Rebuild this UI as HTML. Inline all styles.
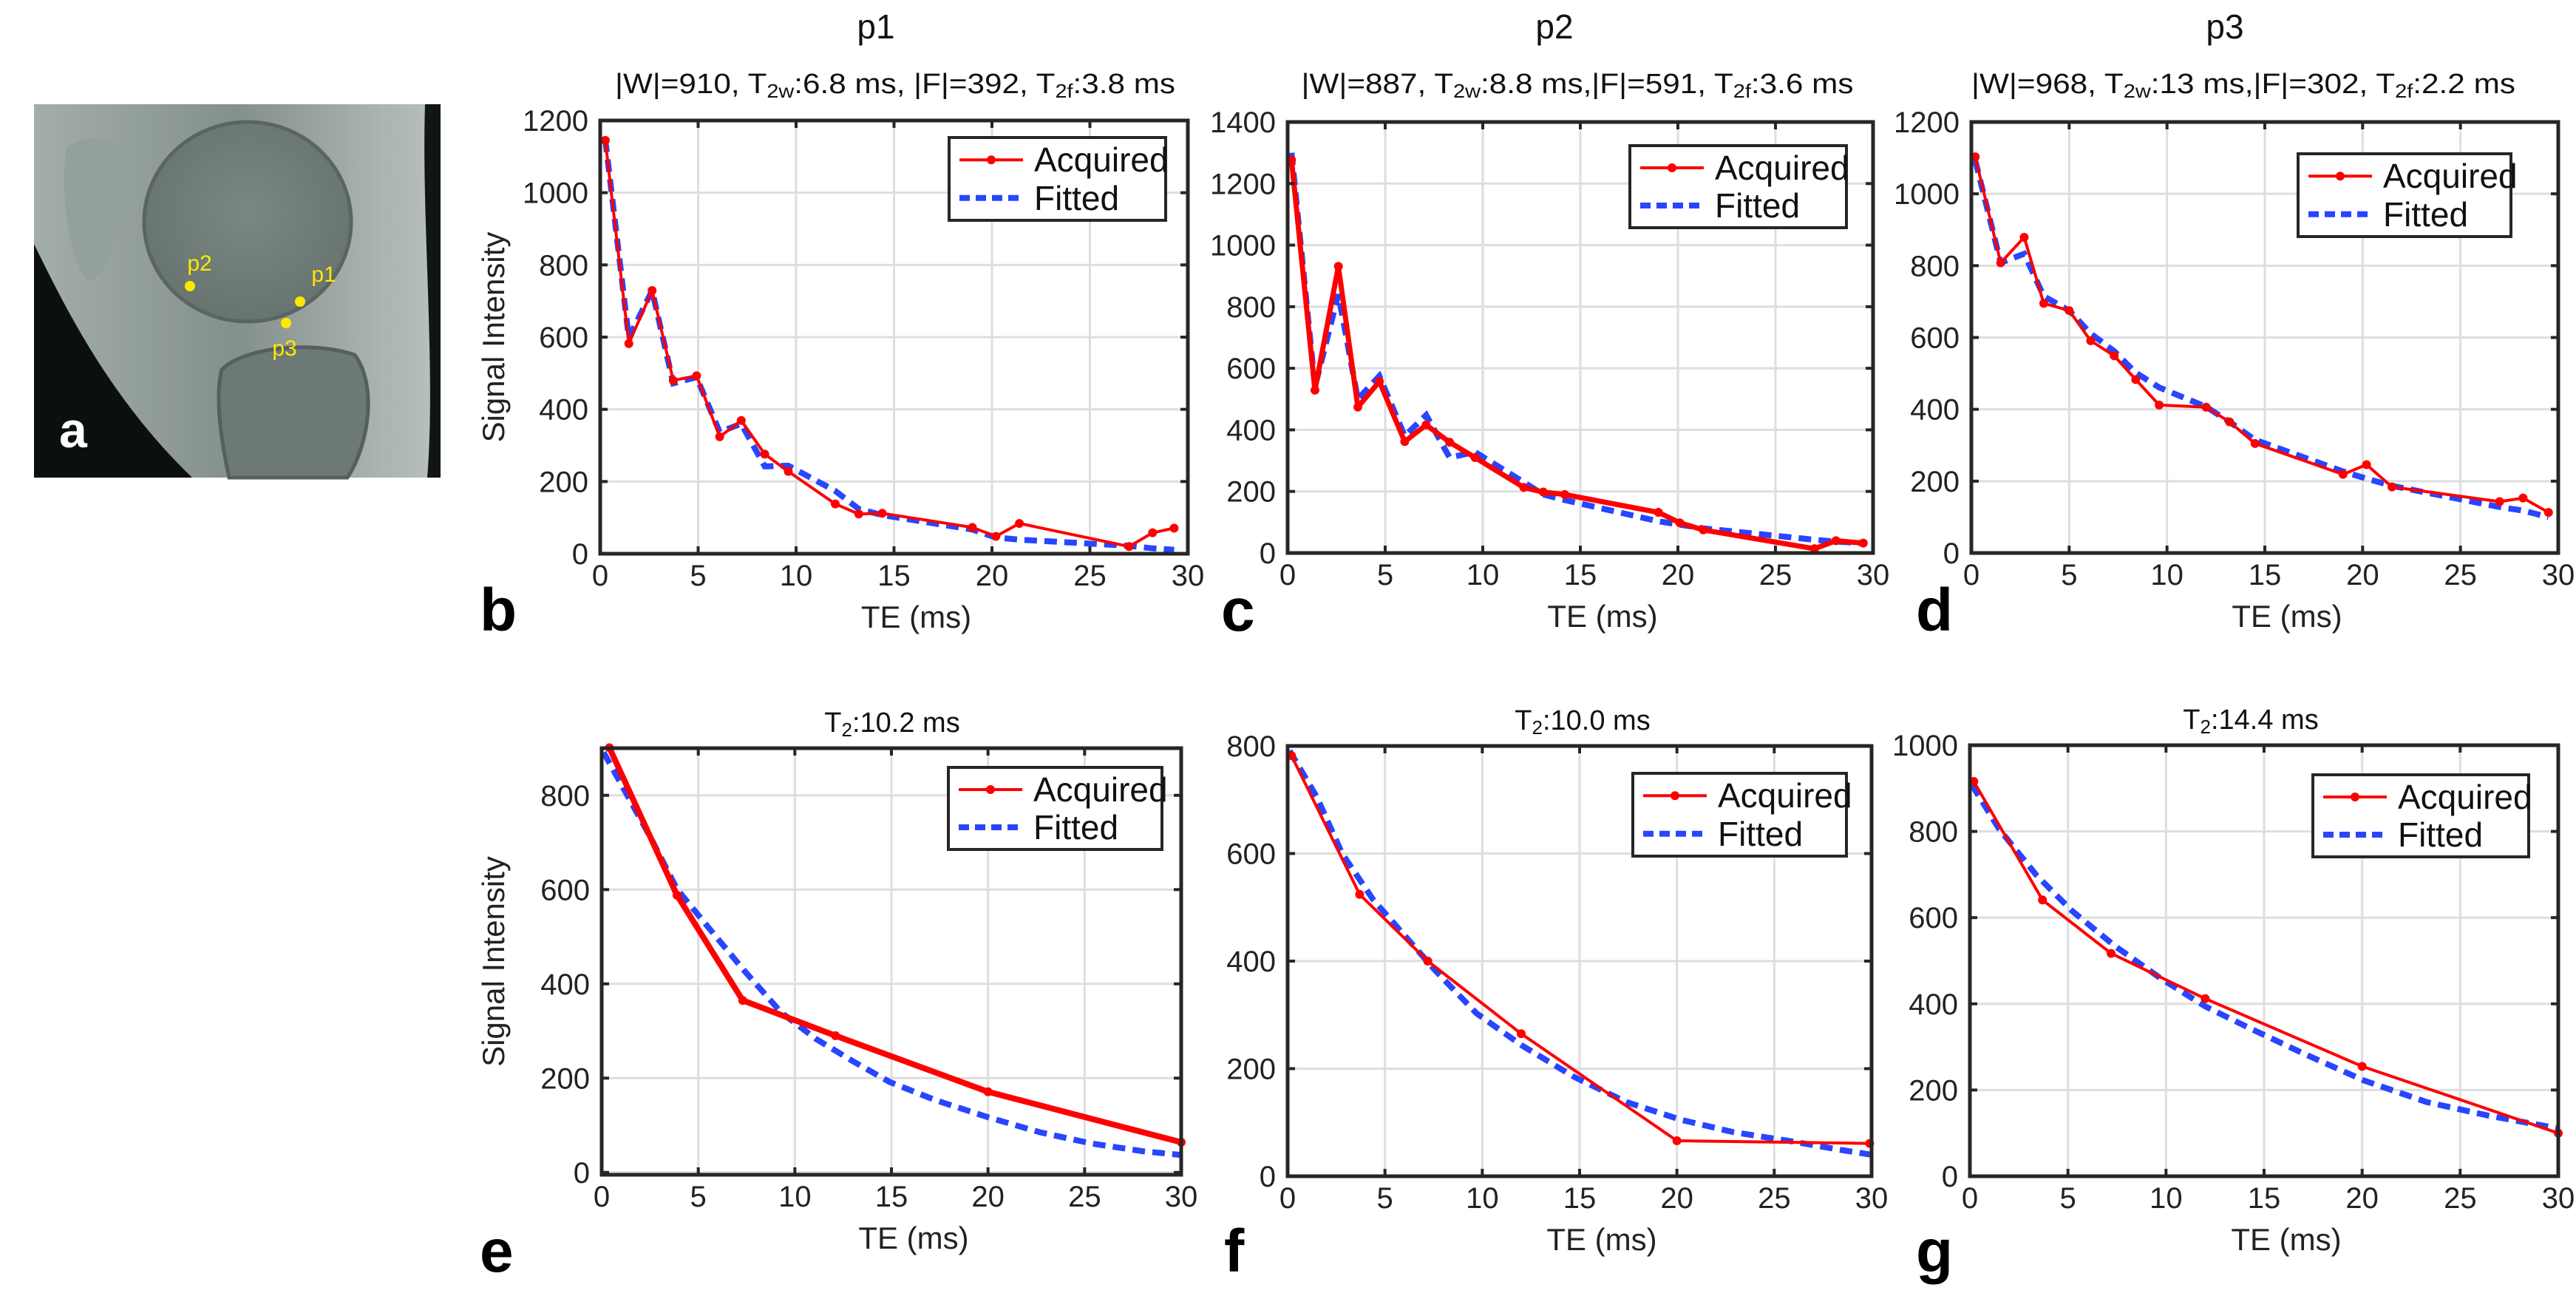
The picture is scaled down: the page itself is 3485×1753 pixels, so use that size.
<!DOCTYPE html>
<html><head><meta charset="utf-8"><style>
html,body{margin:0;padding:0;background:#fff;}
svg{display:block;font-family:"Liberation Sans Narrow","Liberation Sans",Arial,sans-serif;}
</style></head><body>
<svg id="fig" xmlns="http://www.w3.org/2000/svg" width="3485" height="1753" viewBox="0 0 3485 1753">
<defs>
<radialGradient id="femur" cx="0.5" cy="0.45" r="0.55"><stop offset="0" stop-color="#7a8784"/><stop offset="1" stop-color="#68746f"/></radialGradient>
<linearGradient id="bgMri" x1="0" y1="0" x2="1" y2="0"><stop offset="0" stop-color="#a3aeab"/><stop offset="0.5" stop-color="#84908d"/><stop offset="1" stop-color="#b9c2bf"/></linearGradient>
</defs>
<g>
<rect x="46" y="141" width="550" height="505" fill="url(#bgMri)"/>
<path d="M46 330 C90 420,150 540,260 646 L46 646 Z" fill="#0c0f0f"/>
<path d="M575 141 L596 141 L596 646 L578 646 C590 500,570 300,575 141Z" fill="#121515"/>
<path d="M90 200 C130 170,180 190,175 250 C170 300,150 370,120 380 C95 360,80 260,90 200Z" fill="#93a09c"/>
<ellipse cx="335" cy="300" rx="140" ry="135" fill="url(#femur)" stroke="#5a6562" stroke-width="5"/>
<path d="M300 500 C330 470,420 460,480 480 C510 520,500 600,470 646 L310 646 C300 600,290 540,300 500Z" fill="#6d7976" stroke="#55605d" stroke-width="5"/>
<circle cx="257" cy="387" r="7" fill="#ffe800"/>
<circle cx="406" cy="408" r="7" fill="#ffe800"/>
<circle cx="387" cy="437" r="7" fill="#ffe800"/>
<text x="270" y="366" font-size="30" fill="#ffe800" text-anchor="middle" font-family="Liberation Sans, sans-serif">p2</text>
<text x="438" y="381" font-size="30" fill="#ffe800" text-anchor="middle" font-family="Liberation Sans, sans-serif">p1</text>
<text x="385" y="481" font-size="30" fill="#ffe800" text-anchor="middle" font-family="Liberation Sans, sans-serif">p3</text>
<text x="80" y="605" font-size="68" font-weight="bold" fill="#fff" font-family="Liberation Sans, sans-serif">a</text>
</g>
</svg>
<script>
// ---- data arrays ----
const bX   = [0.26,1.46,2.65,3.73,4.92,6.1,7.2,8.4,9.6,12.0,13.2,14.4,19.0,20.2,21.4,27.0,28.2,29.3];
const bAcq = [1145,582,729,480,493,324,369,276,228,138,110,112,73,48,84,20,58,71];
const bFit = [1147,598,729,472,489,337,360,242,244,174,124,107,67,45,39,22,15,11];
const cX   = [0.2,1.4,2.6,3.6,4.7,6.0,7.1,8.3,9.6,12.1,13.1,14.2,19.0,20.1,21.3,27.0,28.1,29.5];
const cAcq = [1276,529,931,474,557,362,416,360,310,213,198,190,132,98,75,14,40,32];
const cFit = [1300,540,840,500,575,380,448,310,328,230,190,172,103,92,80,43,37,32];
const dX   = [0.2,1.5,2.7,3.7,5.0,6.1,7.3,8.4,9.6,12.0,13.2,14.5,19.0,20.2,21.5,27.0,28.2,29.5];
const dAcq = [1103,808,879,695,675,591,549,483,412,406,365,305,219,246,184,143,153,113];
const dFit = [1093,808,833,715,675,611,562,502,461,407,365,315,227,207,187,128,118,100];
const eX   = [0.4,3.9,7.3,12.1,20.0,30.0];
const eAcq = [901,588,365,290,171,64];
const eFitX= [0.1,2.5,3.9,5.8,7.4,9.3,11.1,13.0,14.9,17.3,20.0,22.7,25.4,28.0,30.0];
const eFit = [891,713,601,506,427,339,283,236,192,153,117,85,61,45,37];
const fX   = [0.2,3.7,7.2,12.0,20.0,29.9];
const fAcq = [782,524,400,265,66,61];
const fFitX= [0.1,1.5,2.8,4.4,6.0,7.6,9.7,12.0,14.7,17.4,20.2,22.9,25.7,28.4,30.0];
const fFit = [791,705,600,514,448,382,303,244,185,138,105,82,66,49,40];
const gX   = [0.2,3.7,7.2,12.0,20.0,30.0];
const gAcq = [916,641,517,412,255,100];
const gFitX= [0.1,1.5,3.4,5.2,7.4,9.7,12.0,14.2,16.9,20.1,23.3,26.5,30.0];
const gFit = [908,805,698,616,534,460,394,345,287,222,172,140,111];
const xTicks = [0,5,10,15,20,25,30];
const yTicksB = [0,200,400,600,800,1000,1200];
const yTicksC = [0,200,400,600,800,1000,1200,1400];
const yTicksD = [0,200,400,600,800,1000,1200];
const yTicksE = [0,200,400,600,800];
const yTicksF = [0,200,400,600,800];
const yTicksG = [0,200,400,600,800,1000];

const NS='http://www.w3.org/2000/svg';
const svg=document.getElementById('fig');
function mk(tag,attrs,parent){const e=document.createElementNS(NS,tag);for(const k in attrs)e.setAttribute(k,attrs[k]);(parent||svg).appendChild(e);return e;}

const panels=[
 {id:'b',x0:812,x1:1607,y0:163,y1:749,ymin:0,ymax:1200,yt:yTicksB,ax:bX,ay:bAcq,fx:bX,fy:bFit,lw:4,leg:[1284,186,1577,298],letter:[649,853],ylab:true,title:'p1',tx:1185,sub:'|W|=910, T<tspan font-size="26" dy="6">2w</tspan><tspan dy="-6">:6.8 ms, |F|=392, T</tspan><tspan font-size="26" dy="6">2f</tspan><tspan dy="-6">:3.8 ms</tspan>',sx:1211,subw:758},
 {id:'c',x0:1742,x1:2534,y0:165,y1:748,ymin:0,ymax:1400,yt:yTicksC,ax:cX,ay:cAcq,fx:cX,fy:cFit,lw:7,leg:[2205,197,2498,308],letter:[1652,853],title:'p2',tx:2103,sub:'|W|=887, T<tspan font-size="26" dy="6">2w</tspan><tspan dy="-6">:8.8 ms,|F|=591, T</tspan><tspan font-size="26" dy="6">2f</tspan><tspan dy="-6">:3.6 ms</tspan>',sx:2134,subw:747},
 {id:'d',x0:2667,x1:3461,y0:165,y1:748,ymin:0,ymax:1200,yt:yTicksD,ax:dX,ay:dAcq,fx:dX,fy:dFit,lw:4,leg:[3109,208,3397,320],letter:[2592,853],title:'p3',tx:3010,sub:'|W|=968, T<tspan font-size="26" dy="6">2w</tspan><tspan dy="-6">:13 ms,|F|=302, T</tspan><tspan font-size="26" dy="6">2f</tspan><tspan dy="-6">:2.2 ms</tspan>',sx:3035,subw:736},
 {id:'e',x0:814,x1:1598,y0:1012,y1:1589,ymin:-5,ymax:900,yt:yTicksE,ax:eX,ay:eAcq,fx:eFitX,fy:eFit,lw:8,leg:[1283,1038,1572,1149],letter:[649,1720],ylab:true,t2:'10.2',tx:1207},
 {id:'f',x0:1742,x1:2532,y0:1009,y1:1591,ymin:0,ymax:800,yt:yTicksF,ax:fX,ay:fAcq,fx:fFitX,fy:fFit,lw:4,leg:[2209,1046,2498,1158],letter:[1656,1720],t2:'10.0',tx:2141},
 {id:'g',x0:2665,x1:3461,y0:1008,y1:1591,ymin:0,ymax:1000,yt:yTicksG,ax:gX,ay:gAcq,fx:gFitX,fy:gFit,lw:4,leg:[3129,1048,3421,1159],letter:[2592,1720],t2:'14.4',tx:3045}
];

panels.forEach(p=>{
 const g=mk('g',{});
 
 
 const sx=v=>p.x0+(v-0)/(30-0)*(p.x1-p.x0);
 const sy=v=>p.y1-(v-p.ymin)/(p.ymax-p.ymin)*(p.y1-p.y0);
 xTicks.forEach(t=>{const l=mk('line',{x1:sx(t),x2:sx(t),y1:p.y0,y2:p.y1,stroke:'#dedede','stroke-width':3},g);
  
  });
 p.yt.forEach(t=>{const l=mk('line',{x1:p.x0,x2:p.x1,y1:sy(t),y2:sy(t),stroke:'#dedede','stroke-width':3},g);
  
  });
 const fp=mk('polyline',{points:p.fx.map((x,i)=>sx(x)+','+sy(p.fy[i])).join(' '),fill:'none',stroke:'#2845ff','stroke-width':8,'stroke-dasharray':'17 10'},g);
 
 
 const ap=mk('polyline',{points:p.ax.map((x,i)=>sx(x)+','+sy(p.ay[i])).join(' '),fill:'none',stroke:'#ff0000','stroke-width':p.lw,'stroke-linejoin':'round'},g);
 
 
 p.ax.forEach((x,i)=>{const c=mk('circle',{cx:sx(x),cy:sy(p.ay[i]),r:6,fill:'#ff0000'},g);
  
  });
 const bx=mk('rect',{x:p.x0,y:p.y0,width:p.x1-p.x0,height:p.y1-p.y0,fill:'none',stroke:'#262626','stroke-width':5},g);
 
 
 xTicks.forEach(t=>{
  mk('line',{x1:sx(t),x2:sx(t),y1:p.y1,y2:p.y1-10,stroke:'#262626','stroke-width':4},g);
  mk('line',{x1:sx(t),x2:sx(t),y1:p.y0,y2:p.y0+10,stroke:'#262626','stroke-width':4},g);
  const tx=mk('text',{x:sx(t),y:p.y1+43,'font-size':40,'text-anchor':'middle',fill:'#222'},g);
  tx.textContent=t;
  
  
 });
 p.yt.forEach(t=>{
  mk('line',{x1:p.x0,x2:p.x0+10,y1:sy(t),y2:sy(t),stroke:'#262626','stroke-width':4},g);
  mk('line',{x1:p.x1,x2:p.x1-10,y1:sy(t),y2:sy(t),stroke:'#262626','stroke-width':4},g);
  const ty=mk('text',{x:p.x0-16,y:sy(t)+14,'font-size':40,'text-anchor':'end',fill:'#222'},g);
  ty.textContent=t;
  
  
 });
 const xl=mk('text',{x:(p.x0+p.x1)/2+30,y:p.y1+100,'font-size':42,'text-anchor':'middle',fill:'#222'},g);
 xl.textContent='TE (ms)';
 
 
 if(p.ylab){const yl=mk('text',{x:0,y:0,'font-size':42,'text-anchor':'middle',fill:'#222',transform:`translate(682,${(p.y0+p.y1)/2}) rotate(-90)`},g);
  yl.textContent='Signal Intensity';
  
  }
 const lt=mk('text',{x:p.letter[0],y:p.letter[1],'font-size':82,'font-weight':'bold',fill:'#000','font-family':'Liberation Sans, sans-serif'},g);
 lt.textContent=p.id;
 
 
 const [lx0,ly0,lx1,ly1]=p.leg;
 const lg=mk('g',{},g);
 
 
 mk('rect',{x:lx0,y:ly0,width:lx1-lx0,height:ly1-ly0,fill:'#fff',stroke:'#262626','stroke-width':4},lg);
 const ry=ly0+(ly1-ly0)*0.27, by=ly0+(ly1-ly0)*0.73;
 mk('line',{x1:lx0+14,x2:lx0+100,y1:ry,y2:ry,stroke:'#ff0000','stroke-width':4},lg);
 mk('circle',{cx:lx0+57,cy:ry,r:6,fill:'#ff0000'},lg);
 mk('line',{x1:lx0+14,x2:lx0+100,y1:by,y2:by,stroke:'#2845ff','stroke-width':8,'stroke-dasharray':'14 8'},lg);
 const la=mk('text',{x:lx0+115,y:ry+16,'font-size':46,fill:'#111'},lg);
 la.textContent='Acquired';
 
 
 const lf=mk('text',{x:lx0+115,y:by+16,'font-size':46,fill:'#111'},lg);
 lf.textContent='Fitted';
 
 
 if(p.title){
  const t=mk('text',{x:p.tx,y:52,'font-size':46,'text-anchor':'middle',fill:'#111'},g);
  t.textContent=p.title;
  
  
  const s=mk('text',{x:p.sx,y:126,'font-size':38,'text-anchor':'middle',fill:'#111',textLength:p.subw,lengthAdjust:'spacingAndGlyphs'},g);
  s.innerHTML=p.sub;
  
  
 }
 if(p.t2){
  const t=mk('text',{x:p.tx,y:p.y0-22,'font-size':38,'text-anchor':'middle',fill:'#111'},g);
  t.innerHTML='T<tspan font-size="26" dy="6">2</tspan><tspan dy="-6">:'+p.t2+' ms</tspan>';
  
  
 }
});
</script>
</body></html>
